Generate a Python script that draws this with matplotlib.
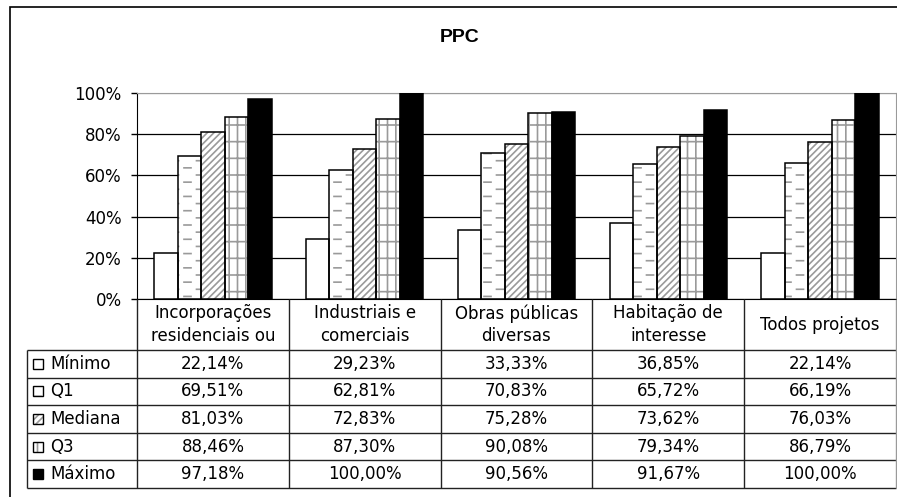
import numpy as np
import matplotlib
matplotlib.use('Agg')
import matplotlib.pyplot as plt
import matplotlib.hatch as mhatch
from matplotlib.path import Path
from matplotlib.patches import Rectangle

###################################################################################################
# data

categories = ['Incorporações\nresidenciais ou', 'Industriais e\ncomerciais', 'Obras públicas\ndiversas',
              'Habitação de\ninteresse', 'Todos projetos']
series_names = ['Mínimo', 'Q1', 'Mediana', 'Q3', 'Máximo']

minimo = [22.14, 29.23, 33.33, 36.85, 22.14]
q1 = [69.51, 62.81, 70.83, 65.72, 66.19]
mediana = [81.03, 72.83, 75.28, 73.62, 76.03]
q3 = [88.46, 87.30, 90.08, 79.34, 86.79]
maximo = [97.18, 100.00, 90.56, 91.67, 100.00]

y_ticks = [0, 20, 40, 60, 80, 100]

###################################################################################################
# custom hatch: staggered short horizontal dashes (uses the '*' character)


class DashRows(mhatch.HatchPatternBase):
    def __init__(self, hatch, density):
        self.num_rows = 14 if '*' in hatch else 0
        self.num_vertices = (self.num_rows // 2) * (4 + 5) * 2

    def set_vertices_and_codes(self, vertices, codes):
        k = 0
        for r in range(self.num_rows):
            y = (r + 0.5) / self.num_rows
            if r % 2 == 0:
                centres = (np.arange(4) + 0.5) / 4
            else:
                centres = np.arange(5) / 4
            for cx in centres:
                vertices[k] = (cx - 0.035, y)
                vertices[k + 1] = (cx + 0.035, y)
                codes[k] = Path.MOVETO
                codes[k + 1] = Path.LINETO
                k += 2


mhatch._hatch_types = [t for t in mhatch._hatch_types if t is not mhatch.Stars] + [DashRows]

plt.rcParams['font.family'] = 'DejaVu Sans'
plt.rcParams['hatch.linewidth'] = 1.2

grey = '#9a9a9a'
fills = ['white', 'white', 'white', 'white', 'black']
hatches = [None, '*', '/////', '+|', None]
values = [minimo, q1, mediana, q3, maximo]

W, H = 897, 497
fig = plt.figure(figsize=(W / 100, H / 100), dpi=100)

# outer frame (only left and top visible)
fig.add_artist(Rectangle((10 / W, -0.1), 1.2, 1.1 - 7 / H, transform=fig.transFigure,
                         fill=False, edgecolor='black', linewidth=1.2))

fig.text(460 / W, 1 - 37 / H, 'PPC', ha='center', va='center', fontsize=14,
         fontweight='bold', family='Liberation Sans')

###################################################################################################
# bar chart

px_unit = (896 - 137) / 5
ax = fig.add_axes([137 / W, 1 - 299 / H, (896 - 137) / W, (299 - 93) / H])
x = np.arange(len(categories))
bw = 23.5 / px_unit

for j in range(len(series_names)):
    pos = x + (j - 2) * bw
    if hatches[j]:
        ax.bar(pos, values[j], bw, color=fills[j], edgecolor=grey, hatch=hatches[j], linewidth=0, zorder=2)
        ax.bar(pos, values[j], bw, fill=False, edgecolor='black', linewidth=1.1, zorder=3)
    else:
        ax.bar(pos, values[j], bw, color=fills[j], edgecolor='black', linewidth=1.1, zorder=3)

ax.set_xlim(-0.5, 4.5)
ax.set_ylim(0, 100)
ax.set_yticks(y_ticks)
ax.set_yticklabels([f'{t}%' for t in y_ticks], fontsize=12)
ax.set_xticks([])
ax.tick_params(axis='y', direction='out', length=4, width=1, pad=7)
ax.set_axisbelow(True)
ax.grid(axis='y', color='black', linewidth=0.9)
ax.get_ygridlines()[-1].set_color(grey)
ax.spines['top'].set_color(grey)
ax.spines['right'].set_color(grey)

###################################################################################################
# data table

left_units = 110 / px_unit
head = 51 / 27.6
tab = fig.add_axes([27 / W, 1 - 488 / H, (896 - 27) / W, (488 - 299) / H])
tab.set_xlim(-0.5 - left_units, 4.5)
tab.set_ylim(head + 5, 0)
tab.axis('off')

xl = -0.5 - left_units
line_c = '#222222'
tab.hlines([head + i for i in range(6)], xl, 4.5, color=line_c, linewidth=1, clip_on=False)
tab.vlines([-0.5, 0.5, 1.5, 2.5, 3.5], 0, head + 5, color=line_c, linewidth=1, clip_on=False)
tab.vlines([4.5], 0, head + 5, color=grey, linewidth=1, clip_on=False)
tab.vlines([xl], head, head + 5, color=line_c, linewidth=1, clip_on=False)

for i, c in enumerate(categories):
    tab.text(i, head / 2, c, ha='center', va='center', fontsize=12, linespacing=1.3)

key_w = 10 / px_unit
key_h = 10 / 27.6
for j, name in enumerate(series_names):
    yc = head + j + 0.5
    kx = xl + 6 / px_unit
    tab.add_patch(Rectangle((kx, yc - key_h / 2), key_w, key_h, facecolor=fills[j],
                            edgecolor=grey if hatches[j] else 'black', hatch=hatches[j],
                            linewidth=0, zorder=2))
    tab.add_patch(Rectangle((kx, yc - key_h / 2), key_w, key_h, fill=False,
                            edgecolor='black', linewidth=1, zorder=3))
    tab.text(xl + 23 / px_unit, yc, name, ha='left', va='center', fontsize=12)
    for i in range(len(categories)):
        tab.text(i, yc, f'{values[j][i]:.2f}%'.replace('.', ','), ha='center', va='center', fontsize=12)

fig.savefig('out.png', dpi=100)
